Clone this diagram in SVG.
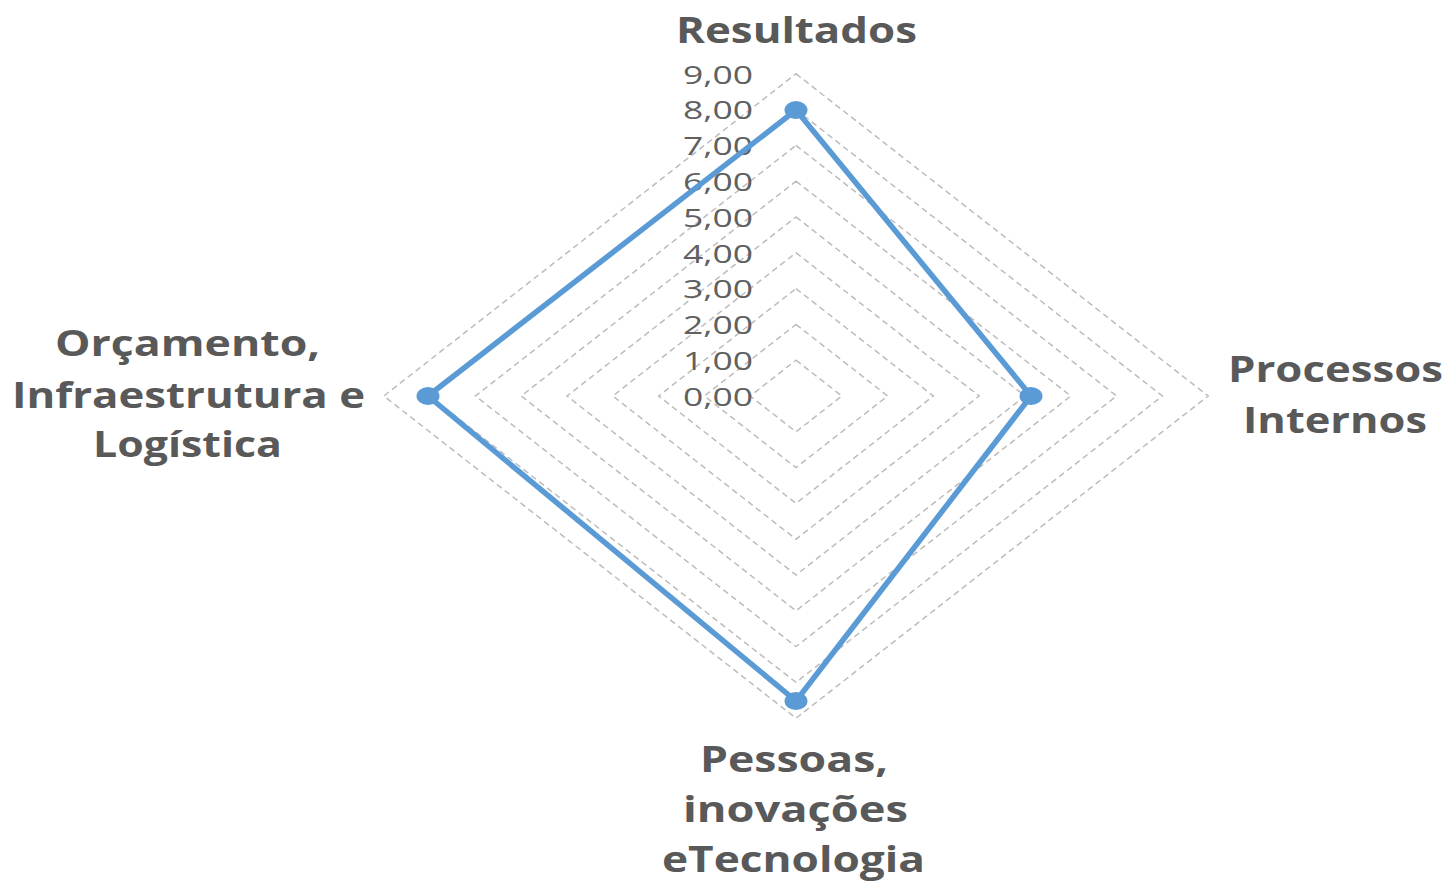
<svg xmlns="http://www.w3.org/2000/svg" width="1449" height="882" viewBox="0 0 1449 882">
<style>
.grid{fill:none;stroke:#bcbcbc;stroke-width:1.5;stroke-dasharray:6 4}
.tick{font-family:"Open Sans","Liberation Sans",sans-serif;font-size:26px;fill:#606060}
.cat{font-family:"Open Sans","Liberation Sans",sans-serif;font-size:35px;font-weight:bold;fill:#595959;text-anchor:middle}
.series{fill:none;stroke:#5b9bd5;stroke-width:5.5;stroke-linejoin:round}
.pt{fill:#5b9bd5}
</style>
<rect width="1449" height="882" fill="#ffffff"/>
<g id="grid">
<polygon class="grid" points="796,360.2 841.8,396 796,431.8 750.2,396"/>
<polygon class="grid" points="796,324.4 887.6,396 796,467.6 704.4,396"/>
<polygon class="grid" points="796,288.6 933.4,396 796,503.4 658.6,396"/>
<polygon class="grid" points="796,252.8 979.2,396 796,539.2 612.8,396"/>
<polygon class="grid" points="796,217 1025,396 796,575 567,396"/>
<polygon class="grid" points="796,181.2 1070.8,396 796,610.8 521.2,396"/>
<polygon class="grid" points="796,145.4 1116.6,396 796,646.6 475.4,396"/>
<polygon class="grid" points="796,109.6 1162.4,396 796,682.4 429.6,396"/>
<polygon class="grid" points="796,73.8 1208.2,396 796,718.2 383.8,396"/>
</g>
<g id="axis-labels">
<text class="tick" x="683" y="83.5" textLength="70" lengthAdjust="spacingAndGlyphs">9,00</text>
<text class="tick" x="683" y="119.3" textLength="70" lengthAdjust="spacingAndGlyphs">8,00</text>
<text class="tick" x="683" y="155.1" textLength="70" lengthAdjust="spacingAndGlyphs">7,00</text>
<text class="tick" x="683" y="190.9" textLength="70" lengthAdjust="spacingAndGlyphs">6,00</text>
<text class="tick" x="683" y="226.7" textLength="70" lengthAdjust="spacingAndGlyphs">5,00</text>
<text class="tick" x="683" y="262.5" textLength="70" lengthAdjust="spacingAndGlyphs">4,00</text>
<text class="tick" x="683" y="298.3" textLength="70" lengthAdjust="spacingAndGlyphs">3,00</text>
<text class="tick" x="683" y="334.1" textLength="70" lengthAdjust="spacingAndGlyphs">2,00</text>
<text class="tick" x="683" y="369.9" textLength="70" lengthAdjust="spacingAndGlyphs">1,00</text>
<text class="tick" x="683" y="405.7" textLength="70" lengthAdjust="spacingAndGlyphs">0,00</text>
</g>
<g id="series">
<polygon class="series" points="796,110 1031,396 796,701 428,396"/>
<ellipse class="pt" cx="796" cy="110" rx="11.5" ry="9"/>
<ellipse class="pt" cx="1031" cy="396" rx="11.5" ry="9"/>
<ellipse class="pt" cx="796" cy="701" rx="11.5" ry="9"/>
<ellipse class="pt" cx="428" cy="396" rx="11.5" ry="9"/>
</g>
<g id="node-resultados">
<text class="cat" x="796.5" y="43" textLength="241" lengthAdjust="spacingAndGlyphs">Resultados</text>
</g>
<g id="node-processos">
<text class="cat" x="1335.5" y="382" textLength="215" lengthAdjust="spacingAndGlyphs">Processos</text>
<text class="cat" x="1335" y="432.5" textLength="184" lengthAdjust="spacingAndGlyphs">Internos</text>
</g>
<g id="node-pessoas">
<text class="cat" x="794" y="772" textLength="188" lengthAdjust="spacingAndGlyphs">Pessoas,</text>
<text class="cat" x="795.5" y="822" textLength="225" lengthAdjust="spacingAndGlyphs">inovações</text>
<text class="cat" x="793.5" y="871.5" textLength="263" lengthAdjust="spacingAndGlyphs">eTecnologia</text>
</g>
<g id="node-orcamento">
<text class="cat" x="187.5" y="356" textLength="265" lengthAdjust="spacingAndGlyphs">Orçamento,</text>
<text class="cat" x="188.5" y="407.5" textLength="353" lengthAdjust="spacingAndGlyphs">Infraestrutura e</text>
<text class="cat" x="187.5" y="457" textLength="189" lengthAdjust="spacingAndGlyphs">Logística</text>
</g>
</svg>
